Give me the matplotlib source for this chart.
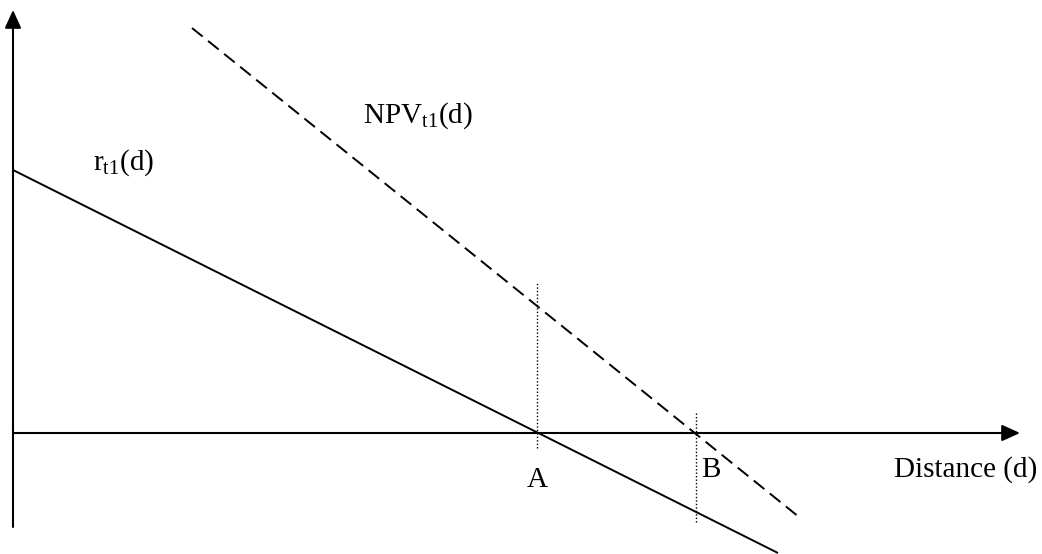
import numpy as np
import matplotlib
matplotlib.use('Agg')
import matplotlib.pyplot as plt

'''
Data (distance units, origin where the axes cross)
'''
r_d = [0.0, 7.65]          # r_t1(d), solid
r_val = [2.63, -1.20]
npv_d = [1.79, 7.86]       # NPV_t1(d), dashed
npv_val = [4.05, -0.84]
point_A = 5.24             # r_t1(d) = 0
point_B = 6.83             # NPV_t1(d) = 0
guide_A = [-0.15, 1.51]
guide_B = [0.20, -0.90]
x_axis_end = 10.07
y_axis_end = [-0.94, 4.23]

plt.rcParams['font.family'] = 'Liberation Serif'
plt.rcParams['mathtext.fontset'] = 'custom'
plt.rcParams['mathtext.rm'] = 'Liberation Serif'
plt.rcParams['mathtext.it'] = 'Liberation Serif:italic'

fig = plt.figure(figsize=(10.42, 5.54), dpi=100)
ax = fig.add_axes([0, 0, 1, 1])
ax.set_xlim(-0.13, 10.29)
ax.set_ylim(-1.21, 4.33)
ax.axis('off')

# axes with arrow heads
arr = dict(arrowstyle='-|>,head_length=1.1,head_width=0.5', mutation_scale=10,
           lw=1.5, color='black', shrinkA=0, shrinkB=0)
ax.annotate('', xy=(x_axis_end, 0), xytext=(0, 0), arrowprops=arr)
ax.annotate('', xy=(0, y_axis_end[1]), xytext=(0, y_axis_end[0]), arrowprops=arr)

# the two curves
ax.plot(r_d, r_val, color='black', lw=1.4, solid_capstyle='butt')
ax.plot(npv_d, npv_val, color='black', lw=1.4, linestyle=(0, (7, 3.6)))

# dotted guides at A and B
ax.plot([point_A, point_A], guide_A, color='black', lw=1, linestyle=(0, (1, 1.5)))
ax.plot([point_B, point_B], guide_B, color='black', lw=1, linestyle=(0, (1, 1.5)))

fs = 21
ax.text(0.80, 2.63, r'$\mathrm{r_{t1}(d)}$', fontsize=fs, ha='left', va='baseline')
ax.text(3.50, 3.10, r'$\mathrm{NPV_{t1}(d)}$', fontsize=fs, ha='left', va='baseline')
ax.text(point_A, -0.54, 'A', fontsize=fs, ha='center', va='baseline')
ax.text(6.88, -0.44, 'B', fontsize=fs, ha='left', va='baseline')
ax.text(8.81, -0.44, 'Distance (d)', fontsize=fs, ha='left', va='baseline')

fig.savefig('out.png', dpi=100)
